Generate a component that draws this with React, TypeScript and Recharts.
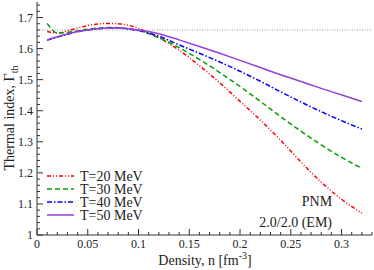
import { LineChart, Line, XAxis, YAxis, ReferenceLine } from 'recharts'

const density = [0.01, 0.02, 0.03, 0.04, 0.05, 0.06, 0.07, 0.08, 0.09, 0.1, 0.12, 0.14, 0.16, 0.18, 0.2, 0.22, 0.24, 0.26, 0.28, 0.3, 0.32]
const gammaT20 = [1.655, 1.65, 1.657, 1.666, 1.674, 1.679, 1.681, 1.68, 1.675, 1.665, 1.635, 1.595, 1.545, 1.49, 1.43, 1.37, 1.305, 1.235, 1.17, 1.115, 1.07]
const gammaT30 = [1.681, 1.65, 1.652, 1.657, 1.662, 1.666, 1.668, 1.667, 1.664, 1.658, 1.635, 1.603, 1.565, 1.523, 1.478, 1.43, 1.381, 1.334, 1.29, 1.25, 1.215]
const gammaT40 = [1.627, 1.637, 1.646, 1.654, 1.66, 1.664, 1.666, 1.666, 1.663, 1.658, 1.64, 1.612, 1.585, 1.557, 1.527, 1.495, 1.461, 1.428, 1.397, 1.368, 1.341]
const gammaT50 = [1.628, 1.638, 1.647, 1.655, 1.66, 1.664, 1.666, 1.666, 1.664, 1.66, 1.648, 1.628, 1.607, 1.585, 1.562, 1.539, 1.516, 1.494, 1.472, 1.451, 1.43]
const idealGas = 1.66

const xTicks = [0, 0.05, 0.1, 0.15, 0.2, 0.25, 0.3]
const yTicks = [1, 1.1, 1.2, 1.3, 1.4, 1.5, 1.6, 1.7]
const xMinor = Array.from({ length: 34 }, (_, i) => i / 100)
const yMinor = Array.from({ length: 38 }, (_, i) => Math.round((1 + i * 0.02) * 100) / 100)

const SERIES = [
  { key: 't20', label: 'T=20 MeV', color: '#ff0000', dash: '4 2 1 2 1 2' },
  { key: 't30', label: 'T=30 MeV', color: '#00a000', dash: '5 3' },
  { key: 't40', label: 'T=40 MeV', color: '#0000ff', dash: '5 2 1.5 2' },
  { key: 't50', label: 'T=50 MeV', color: '#9440d8', dash: undefined },
]

const data = density.map((n, i) => ({
  n,
  t20: gammaT20[i],
  t30: gammaT30[i],
  t40: gammaT40[i],
  t50: gammaT50[i],
}))

const FONT = "'Liberation Serif', 'Times New Roman', Times, serif"
const FRAME = '#333'
const textStyle = { fontFamily: FONT }

const isTick = (v: number, list: number[]) => list.some((t) => Math.abs(t - v) < 1e-6)

function BottomTick({ x, y, payload }: any) {
  const major = isTick(payload.value, xTicks)
  return (
    <g>
      <line x1={x} x2={x} y1={y} y2={y - (major ? 6 : 3)} stroke={FRAME} />
      {major && (
        <text x={x} y={y + 13} textAnchor="middle" fontSize={12} style={textStyle} fill="#222">
          {String(payload.value)}
        </text>
      )}
    </g>
  )
}

function TopTick({ x, y, payload }: any) {
  const major = isTick(payload.value, xTicks)
  return <line x1={x} x2={x} y1={y} y2={y + (major ? 6 : 3)} stroke={FRAME} />
}

function LeftTick({ x, y, payload }: any) {
  const major = isTick(payload.value, yTicks)
  return (
    <g>
      <line x1={x} x2={x + (major ? 6 : 3)} y1={y} y2={y} stroke={FRAME} />
      {major && (
        <text x={x - 4} y={y + 4} textAnchor="end" fontSize={12} style={textStyle} fill="#222">
          {String(payload.value)}
        </text>
      )}
    </g>
  )
}

function RightTick({ x, y, payload }: any) {
  const major = isTick(payload.value, yTicks)
  return <line x1={x} x2={x - (major ? 6 : 3)} y1={y} y2={y} stroke={FRAME} />
}

export default function App() {
  return (
    <div style={{ position: 'absolute', left: 0, top: 0, width: 374, height: 270, fontFamily: FONT }}>
      <LineChart width={374} height={270} data={data} margin={{ top: 2, right: 2, bottom: 0, left: 0 }}>
        <XAxis
          xAxisId="bottom"
          dataKey="n"
          type="number"
          domain={[0, 0.33]}
          ticks={xMinor}
          interval={0}
          height={35}
          tickLine={false}
          tickSize={0}
          tickMargin={0}
          tick={<BottomTick />}
          stroke={FRAME}
          allowDataOverflow
        />
        <XAxis
          xAxisId="top"
          orientation="top"
          dataKey="n"
          type="number"
          domain={[0, 0.33]}
          ticks={xMinor}
          interval={0}
          height={0}
          tickLine={false}
          tickSize={0}
          tickMargin={0}
          tick={<TopTick />}
          stroke={FRAME}
          allowDataOverflow
        />
        <YAxis
          yAxisId="left"
          type="number"
          domain={[1, 1.75]}
          ticks={yMinor}
          interval={0}
          width={37}
          tickLine={false}
          tickSize={0}
          tickMargin={0}
          tick={<LeftTick />}
          stroke={FRAME}
          allowDataOverflow
        />
        <YAxis
          yAxisId="right"
          orientation="right"
          type="number"
          domain={[1, 1.75]}
          ticks={yMinor}
          interval={0}
          width={0}
          tickLine={false}
          tickSize={0}
          tickMargin={0}
          tick={<RightTick />}
          stroke={FRAME}
          allowDataOverflow
        />
        <ReferenceLine
          xAxisId="bottom"
          yAxisId="left"
          y={idealGas}
          stroke="#999"
          strokeDasharray="1 1.5"
        />
        {SERIES.map((s) => (
          <Line
            key={s.key}
            xAxisId="bottom"
            yAxisId="left"
            type="monotone"
            dataKey={s.key}
            name={s.label}
            stroke={s.color}
            strokeWidth={1.5}
            strokeDasharray={s.dash}
            dot={false}
            isAnimationActive={false}
          />
        ))}
      </LineChart>
      <svg width={374} height={270} style={{ position: 'absolute', left: 0, top: 0, pointerEvents: 'none' }}>
        {SERIES.map((s, i) => (
          <g key={s.key}>
            <line x1={47} x2={74} y1={176 + i * 13} y2={176 + i * 13} stroke={s.color} strokeWidth={1.5} strokeDasharray={s.dash} />
            <text x={80} y={181 + i * 13} fontSize={14} style={textStyle} fill="#222">
              {s.label}
            </text>
          </g>
        ))}
        <text x={317} y={206} textAnchor="middle" fontSize={14} style={textStyle} fill="#222">
          PNM
        </text>
        <text x={332} y={227} textAnchor="end" fontSize={14} style={textStyle} fill="#222">
          2.0/2.0 (EM)
        </text>
        <text x={205} y={265} textAnchor="middle" fontSize={14} style={textStyle} fill="#222">
          Density, n [fm
          <tspan dy={-6} fontSize={10}>-3</tspan>
          <tspan dy={6}>]</tspan>
        </text>
        <text transform="translate(14,118) rotate(-90)" textAnchor="middle" fontSize={14} style={textStyle} fill="#222">
          Thermal index, Γ
          <tspan dy={4} fontSize={10}>th</tspan>
        </text>
      </svg>
    </div>
  )
}
